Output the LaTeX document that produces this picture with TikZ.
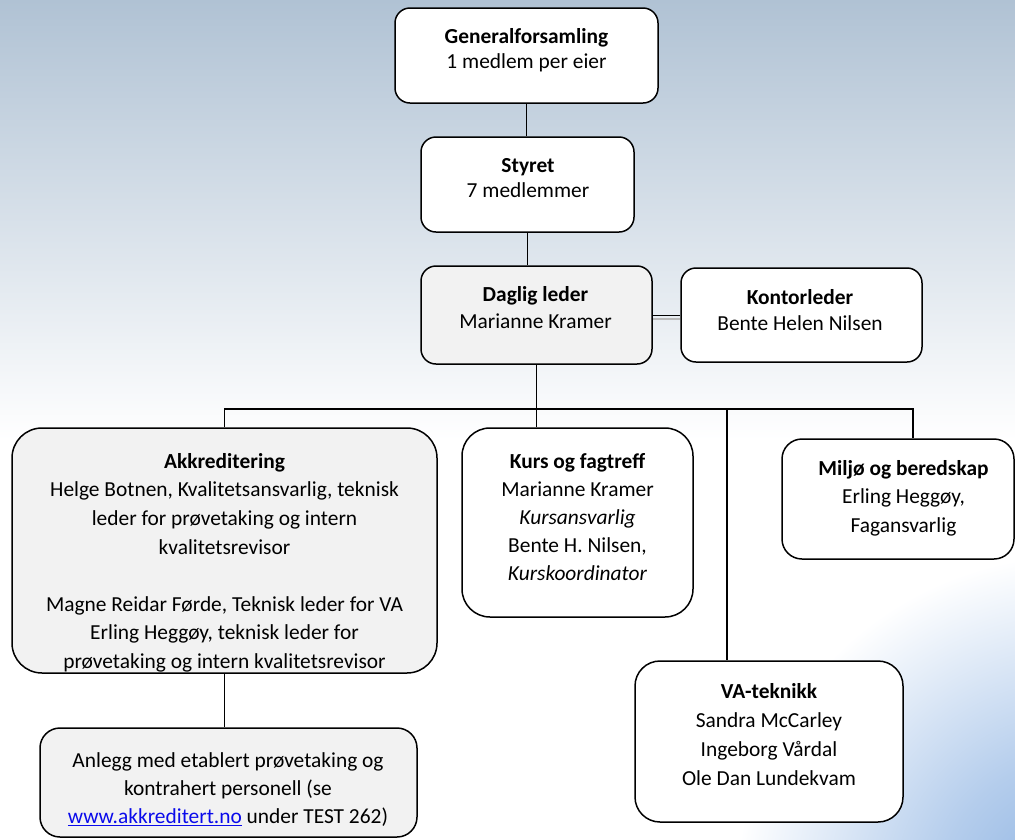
\documentclass[tikz,border=0pt]{standalone}
\usepackage{fontspec}
\setmainfont{Carlito}
\usepackage{xcolor}
\usetikzlibrary{calc}
\definecolor{bgtop}{RGB}{176,194,212}
\definecolor{bgcorner}{RGB}{140,178,226}
\definecolor{boxgray}{RGB}{242,242,242}
\definecolor{linkblue}{RGB}{10,10,235}
\pgfdeclareradialshading{cornerglow}{\pgfpoint{0bp}{0bp}}{%
  color(0bp)=(bgcorner); color(10bp)=(bgcorner!65!white); color(25bp)=(white); color(50bp)=(white)}
\newlength\cornerbig
\newlength\cornersmall
\setlength{\cornerbig}{28pt}
\setlength{\cornersmall}{15pt}
\newcommand{\orgbox}[5]{
   \node[orgframe, fill=#2, minimum width=#3, minimum height=#4,
         rounded corners=#5] (#1) at (O) {};
}
\def\thisbox{\orgbox}
\tikzset{
  orgframe/.style={draw, line width=1.5pt, inner sep=0pt},
  orgtext/.style={anchor=north, align=center, inner sep=0pt,
                  font=\fontsize{21.4}{#1}\selectfont},
  link/.style={line width=1.3pt},
  shadowlink/.style={line width=2pt, gray!55}
}

\begin{document}
\begin{tikzpicture}[x=1pt, y=-1pt]
    \useasboundingbox (0,0) rectangle (1015,839);
    \fill[white] (0,0) rectangle (1015,839);
    \shade[top color=bgtop, bottom color=white] (0,0) rectangle (1015,440);
    \begin{scope}
      \clip (0,0) rectangle (1015,839);
      \shade[shading=cornerglow] (1075,895) circle (340);
    \end{scope}
    % boxes
    \coordinate (O) at (526.5,55.5);
    \thisbox{gen}{white}{263}{95}{\cornersmall};
    \coordinate (O) at (527.5,184.5);
    \thisbox{styret}{white}{213}{95}{\cornersmall};
    \coordinate (O) at (536.5,315);
    \thisbox{daglig}{boxgray}{231}{98}{\cornersmall};
    \coordinate (O) at (801.5,315);
    \thisbox{kontor}{white}{241}{94}{\cornersmall};
    \coordinate (O) at (224.5,550.5);
    \thisbox{akk}{boxgray}{425}{245}{30pt};
    \coordinate (O) at (228.5,782.5);
    \thisbox{anlegg}{boxgray}{377}{109}{20pt};
    \coordinate (O) at (577.5,522.5);
    \thisbox{kurs}{white}{231}{189}{\cornerbig};
    \coordinate (O) at (898,499);
    \thisbox{miljo}{white}{232}{120}{20pt};
    \coordinate (O) at (769,741.5);
    \thisbox{va}{white}{268}{161}{25pt};
    %\thisbox{test}{white}{100}{100}{\cornerbig};

    \node[orgtext=24.5] (gen-txt) at (526.5,26.2)
      {\textbf{Generalforsamling}\strut\\1 medlem per eier};
    \node[orgtext=24.5] (styret-txt) at (528,155.6)
      {\textbf{Styret}\strut\\7 medlemmer};
    \node[orgtext=26.5] (daglig-txt) at (535.5,283)
      {\textbf{Daglig leder}\strut\\Marianne Kramer};
    \node[orgtext=26.5] (kontor-txt) at (800,285.5)
      {\textbf{Kontorleder}\strut\\Bente Helen Nilsen};
    \node[orgtext=28.6] (akk-txt) at (224.5,448)
      {\textbf{Akkreditering}\strut\\Helge Botnen, Kvalitetsansvarlig, teknisk\\
       leder for prøvetaking og intern\\kvalitetsrevisor\\[28.6pt]
       Magne Reidar Førde, Teknisk leder for VA\\Erling Heggøy, teknisk leder for\\
       prøvetaking og intern kvalitetsrevisor};
    \node[orgtext=28] (anlegg-txt) at (228,747.4)
      {Anlegg med etablert prøvetaking og\strut\\kontrahert personell (se\\
       \textcolor{linkblue}{\underline{www.akkreditert.no}} under TEST 262)};
    \node[orgtext=28] (kurs-txt) at (577.5,448.4)
      {\textbf{Kurs og fagtreff}\strut\\Marianne Kramer\\\textit{Kursansvarlig}\\
       Bente H. Nilsen,\\\textit{Kurskoordinator}};
    \node[orgtext=28.5] (miljo-txt) at (903.5,455)
      {\textbf{Miljø og beredskap}\strut\\Erling Heggøy,\\Fagansvarlig};
    \node[orgtext=29] (va-txt) at (769,677.7)
      {\textbf{VA-teknikk}\strut\\Sandra McCarley\\Ingeborg Vårdal\\Ole Dan Lundekvam};

    % lines
    \coordinate (busR) at (913,409);
    \coordinate (busVA) at (727,409);
    \draw[link] (gen.south) -- (gen.south |- styret.north);
    \draw[link] (styret.south) -- (styret.south |- daglig.north);
    \draw[link] (daglig.south) -- (daglig.south |- kurs.north);
    \draw[link, line width=1pt] (daglig.east) -- (daglig.east -| kontor.west);
    \draw[shadowlink] ([yshift=-4pt]daglig.east) -- ([yshift=-4pt]daglig.east -| kontor.west);
    \draw[link] (akk.north) |- (busR) -- (busR |- miljo.north);
    \draw[link] (busVA) -- (busVA |- va.north);
    \draw[link] (akk.south) -- (akk.south |- anlegg.north);
\end{tikzpicture}
\end{document}
